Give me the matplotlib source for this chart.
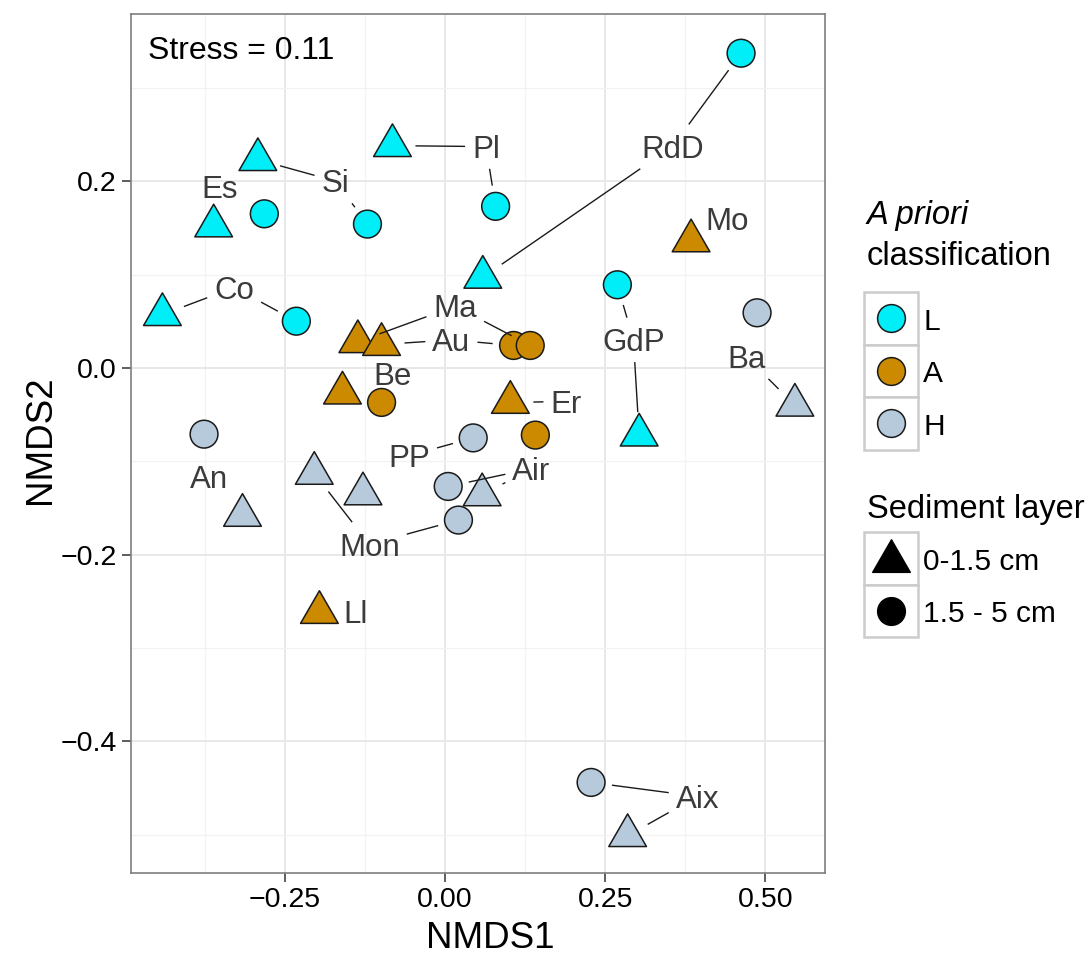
import matplotlib
matplotlib.use("Agg")
import matplotlib.pyplot as plt
import numpy as np
from matplotlib.path import Path
from matplotlib.patches import Rectangle
import matplotlib.transforms as mtransforms

plt.rcParams['font.family'] = ['Liberation Sans', 'DejaVu Sans']

# ---------------- data ----------------
sites = ["RdD", "Pl", "Si", "Es", "Co", "GdP",
         "Mo", "Au", "Ma", "Be", "Er", "Ll",
         "Ba", "An", "Mon", "PP", "Air", "Aix"]
site_class = ["L", "L", "L", "L", "L", "L",
              "A", "A", "A", "A", "A", "A",
              "H", "H", "H", "H", "H", "H"]
# layer 0-1.5 cm (triangles)
tri_x = [0.059, -0.082, -0.292, -0.361, -0.441, 0.303,
         0.384, -0.099, -0.136, -0.160, 0.102, -0.196,
         0.546, -0.316, -0.204, -0.128, 0.058, 0.285]
tri_y = [0.097, 0.238, 0.223, 0.152, 0.057, -0.072,
         0.136, 0.025, 0.028, -0.027, -0.037, -0.262,
         -0.040, -0.158, -0.113, -0.135, -0.136, -0.501]
# layer 1.5 - 5 cm (circles); NaN = no sample
circ_x = [0.462, 0.079, -0.121, -0.282, -0.232, 0.269,
          np.nan, 0.107, 0.133, -0.099, 0.141, np.nan,
          0.487, -0.376, 0.021, 0.044, 0.005, 0.228]
circ_y = [0.337, 0.173, 0.154, 0.165, 0.050, 0.089,
          np.nan, 0.024, 0.024, -0.037, -0.072, np.nan,
          0.059, -0.071, -0.163, -0.075, -0.127, -0.444]
# repelled label positions
label_x = [0.355, 0.064, -0.171, -0.351, -0.329, 0.294,
           0.441, 0.010, 0.016, -0.082, 0.189, -0.140,
           0.470, -0.369, -0.118, -0.056, 0.135, 0.394]
label_y = [0.237, 0.237, 0.200, 0.194, 0.086, 0.030,
           0.160, 0.030, 0.066, -0.006, -0.036, -0.261,
           0.012, -0.117, -0.189, -0.094, -0.108, -0.459]

class_names = ["L", "A", "H"]
class_colors = {"L": "#00EEF8", "A": "#CB8A00", "H": "#B7CADB"}
layer_names = ["0-1.5 cm", "1.5 - 5 cm"]
stress_text = "Stress = 0.11"

x_ticks = [-0.25, 0.0, 0.25, 0.50]
x_ticklabels = ["\u22120.25", "0.00", "0.25", "0.50"]
y_ticks = [-0.4, -0.2, 0.0, 0.2]
y_ticklabels = ["\u22120.4", "\u22120.2", "0.0", "0.2"]

# ---------------- figure ----------------
W, H = 1088, 955
DPI = 100
fig = plt.figure(figsize=(W / DPI, H / DPI), dpi=DPI)
ax = fig.add_axes([131 / W, 1 - 873 / H, (825 - 131) / W, (873 - 14) / H])
ax.set_xlim(-0.490, 0.593)
ax.set_ylim(-0.541, 0.379)

# grid
ax.set_xticks(x_ticks)
ax.set_xticklabels(x_ticklabels)
ax.set_yticks(y_ticks)
ax.set_yticklabels(y_ticklabels)
ax.set_xticks([-0.375, -0.125, 0.125, 0.375], minor=True)
ax.set_yticks([-0.5, -0.3, -0.1, 0.1, 0.3], minor=True)
ax.grid(True, which='major', color='#E8E8E8', lw=1.4, zorder=0)
ax.grid(True, which='minor', color='#F2F2F2', lw=0.9, zorder=0)
ax.set_axisbelow(True)
ax.tick_params(which='minor', length=0)
ax.tick_params(which='major', length=6.4, width=1.1, color='#333333',
               labelsize=20.5, labelcolor='black', pad=4)
for sp in ax.spines.values():
    sp.set_color('#7F7F7F')
    sp.set_linewidth(1.2)

# markers
tri_marker = Path([(-1, -0.57735), (1, -0.57735), (0, 1.1547), (-1, -0.57735)],
                  [Path.MOVETO, Path.LINETO, Path.LINETO, Path.CLOSEPOLY])
S_TRI = 982
S_CIR = 400
cols = [class_colors[c] for c in site_class]

# triangles (reverse order), then circles
ax.scatter(tri_x[::-1], tri_y[::-1], s=S_TRI, marker=tri_marker, c=cols[::-1],
           edgecolors='#1A1A1A', linewidths=1.1, zorder=3)
ax.scatter(circ_x, circ_y, s=S_CIR, marker='o', c=cols,
           edgecolors='#1A1A1A', linewidths=1.1, zorder=3)

# labels
LFS = 22.5
cap_pt = 0.716 * LFS
lab_tr = mtransforms.offset_copy(ax.transData, fig=fig, y=-cap_pt / 2, units='points')
texts = []
for s, lx, ly in zip(sites, label_x, label_y):
    t = ax.text(lx, ly, s, fontsize=LFS, color='#3B3B3B', ha='center',
                va='baseline', transform=lab_tr, zorder=5)
    texts.append(t)

ax.text(-0.463, 0.343, stress_text, fontsize=23, color='black', ha='left',
        va='baseline', zorder=5,
        transform=mtransforms.offset_copy(ax.transData, fig=fig,
                                          y=-0.358 * 23, units='points'))

# segments (label box edge -> point edge)
renderer = fig.canvas.get_renderer()
cap_px = cap_pt * DPI / 72
inv = ax.transData.inverted()
for i, t in enumerate(texts):
    w = t.get_window_extent(renderer).width
    hw = w / 2 + 7
    hh = cap_px / 2 + 11
    lx, ly = ax.transData.transform((label_x[i], label_y[i]))
    pts = [(tri_x[i], tri_y[i], 23)]
    if not np.isnan(circ_x[i]):
        pts.append((circ_x[i], circ_y[i], 21))
    for (px_, py_, r) in pts:
        px, py = ax.transData.transform((px_, py_))
        dx, dy = px - lx, py - ly
        d = np.hypot(dx, dy)
        tx = hw / abs(dx) if dx != 0 else np.inf
        ty = hh / abs(dy) if dy != 0 else np.inf
        s0 = min(tx, ty) * d
        s1 = d - r
        if s1 - s0 > 3:
            a = inv.transform((lx + dx * s0 / d, ly + dy * s0 / d))
            b = inv.transform((lx + dx * s1 / d, ly + dy * s1 / d))
            ax.plot([a[0], b[0]], [a[1], b[1]], color='#1A1A1A', lw=1.0,
                    zorder=4, solid_capstyle='butt')

# axis titles
fig.text(490 / W, 1 - 948 / H, "NMDS1", fontsize=26.5, ha='center', va='baseline')
fig.text(50 / W, 1 - 440 / H, "NMDS2", fontsize=26.5, ha='center', va='baseline',
         rotation=90, rotation_mode='anchor')

# ---------------- legend (pixel overlay) ----------------
ov = fig.add_axes([0, 0, 1, 1], zorder=10)
ov.set_xlim(0, W)
ov.set_ylim(H, 0)
ov.axis('off')
ov.patch.set_alpha(0)

def cap_text(x, yc, s, fs, **kw):
    ov.text(x, yc + 0.358 * fs * DPI / 72, s, fontsize=fs, ha='left',
            va='baseline', **kw)

TFS = 23.5
ov.text(867, 224, "A priori", fontsize=TFS, style='italic', ha='left', va='baseline')
ov.text(867, 265, "classification", fontsize=TFS, ha='left', va='baseline')
key_w, key_h = 54, 52.5
for k, cname in enumerate(class_names):
    y0 = 292 + k * key_h
    ov.add_patch(Rectangle((864, y0), key_w, key_h, facecolor='white',
                           edgecolor='#CCCCCC', lw=1.8))
    ov.scatter([891], [y0 + key_h / 2], s=S_CIR, marker='o',
               c=class_colors[cname], edgecolors='#1A1A1A', linewidths=1.1, zorder=3)
    cap_text(923, y0 + key_h / 2 + 1, cname, 21.5)

ov.text(867, 518, "Sediment layer", fontsize=TFS, ha='left', va='baseline')
for k, lname in enumerate(layer_names):
    y0 = 532 + k * key_h
    ov.add_patch(Rectangle((864, y0), key_w, key_h, facecolor='white',
                           edgecolor='#CCCCCC', lw=1.8))
    if k == 0:
        ov.scatter([891], [y0 + key_h / 2 + 3], s=S_TRI, marker=tri_marker,
                   c='black', edgecolors='black', linewidths=1.0, zorder=3)
    else:
        ov.scatter([891], [y0 + key_h / 2], s=S_CIR, marker='o',
                   c='black', edgecolors='black', linewidths=1.0, zorder=3)
    cap_text(923, y0 + key_h / 2 + 1, lname, 21.5)

fig.savefig("out.png", dpi=DPI)
